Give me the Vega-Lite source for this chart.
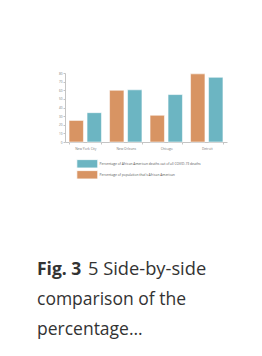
{
  "$schema": "https://vega.github.io/schema/vega-lite/v6.json",
  "width": 162,
  "height": 69,
  "autosize": {"type": "none"},
  "padding": {"left": 65, "top": 73, "right": 35, "bottom": 214},
  "background": "white",
  "config": {
    "view": {"stroke": null},
    "font": "Open Sans",
    "axis": {"labelFont": "Open Sans", "grid": false, "domainColor": "#c4c4c4", "tickColor": "#c4c4c4", "labelColor": "#777777"}
  },
  "data": {
    "values": [
      {"city": "New York City", "series": "Percentage of population that's African American", "value": 25},
      {"city": "New York City", "series": "Percentage of African American deaths out of all COVID-19 deaths", "value": 34},
      {"city": "New Orleans", "series": "Percentage of population that's African American", "value": 60},
      {"city": "New Orleans", "series": "Percentage of African American deaths out of all COVID-19 deaths", "value": 60.5},
      {"city": "Chicago", "series": "Percentage of population that's African American", "value": 31},
      {"city": "Chicago", "series": "Percentage of African American deaths out of all COVID-19 deaths", "value": 55},
      {"city": "Detroit", "series": "Percentage of population that's African American", "value": 79},
      {"city": "Detroit", "series": "Percentage of African American deaths out of all COVID-19 deaths", "value": 75}
    ]
  },
  "mark": {"type": "bar", "stroke": "#ffffff", "strokeOpacity": 0.55, "strokeWidth": 1},
  "encoding": {
    "x": {
      "field": "city", "type": "nominal",
      "sort": ["New York City", "New Orleans", "Chicago", "Detroit"],
      "scale": {"paddingInner": 0.2, "paddingOuter": 0.1},
      "axis": {
        "labelAngle": 0, "labelFontSize": 3.3, "tickBand": "extent", "tickSize": 2, "labelPadding": 2,
        "title": "5 Side-by-side", "titleFont": "Open Sans", "titleFontSize": 18.3, "titleFontWeight": "normal",
        "titleColor": "#333333", "titleAlign": "left", "titleAnchor": "start", "titleBaseline": "alphabetic",
        "titleX": 22.5, "titleY": 132
      }
    },
    "xOffset": {
      "field": "series", "type": "nominal",
      "sort": ["Percentage of population that's African American", "Percentage of African American deaths out of all COVID-19 deaths"],
      "scale": {"paddingInner": 0.2}
    },
    "y": {
      "field": "value", "type": "quantitative",
      "scale": {"domain": [0, 80]},
      "axis": {"title": null, "values": [0, 10, 20, 30, 40, 50, 60, 70, 80], "labelFontSize": 3, "tickSize": 2, "labelPadding": 1}
    },
    "color": {
      "field": "series", "type": "nominal",
      "scale": {
        "domain": ["Percentage of African American deaths out of all COVID-19 deaths", "Percentage of population that's African American"],
        "range": ["#6cb5c2", "#d89463"]
      },
      "legend": {
        "orient": "none", "legendX": 17.3, "legendY": 85.8, "title": null, "padding": 0,
        "symbolType": "M-2.5,-1H2.5V1H-2.5Z", "symbolSize": 70, "symbolOpacity": 1,
        "symbolStrokeColor": "#ffffff", "symbolStrokeWidth": 0.8,
        "labelFontSize": 3.3, "labelColor": "#555555", "labelOffset": 7.3, "labelLimit": 300, "rowPadding": -4
      }
    }
  },
  "title": {
    "text": "Fig. 3",
    "subtitle": ["comparison of the", "percentage..."],
    "orient": "top", "anchor": "start", "frame": "group", "dx": -28, "offset": -266,
    "font": "Open Sans", "fontSize": 17.5, "fontWeight": "bold", "color": "#333333",
    "subtitleFont": "Open Sans", "subtitleFontSize": 17.5, "subtitleFontWeight": "normal", "subtitleColor": "#333333",
    "subtitleLineHeight": 30, "subtitlePadding": 12.5
  }
}
